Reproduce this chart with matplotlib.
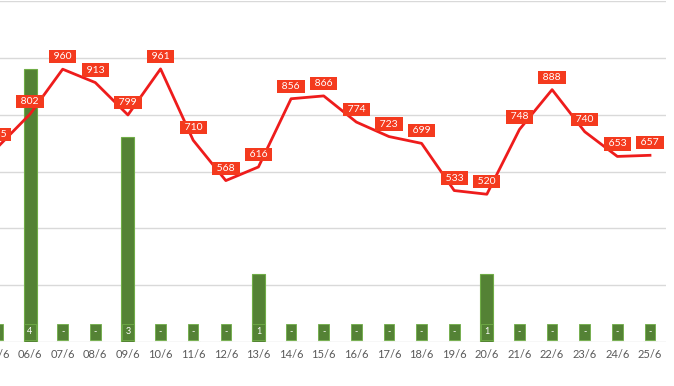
import matplotlib
matplotlib.use('Agg')
import matplotlib.pyplot as plt
import numpy as np

plt.rcParams['font.family'] = ['Lato', 'DejaVu Sans']

# data
days = ['05/6', '06/6', '07/6', '08/6', '09/6', '10/6', '11/6', '12/6', '13/6',
        '14/6', '15/6', '16/6', '17/6', '18/6', '19/6', '20/6', '21/6', '22/6',
        '23/6', '24/6', '25/6']
line_vals = [685, 802, 960, 913, 799, 961, 710, 568, 616, 856, 866, 774, 723,
             699, 533, 520, 748, 888, 740, 653, 657]
bar_vals = [0, 4, 0, 0, 3, 0, 0, 0, 1, 0, 0, 0, 0, 0, 0, 1, 0, 0, 0, 0, 0]

red = '#EE1C1C'
red_box = '#F43A1E'
green = '#548235'
green_edge = '#70AD47'

x = np.arange(len(days))

fig = plt.figure(figsize=(6.74, 3.86), dpi=100)
# the picture is a crop of a wider chart, so the axes spill past the left edge
ax = fig.add_axes([-18.9/674, 44/386, 685.2/674, 341/386])

# grid axis (line scale)
ax.set_ylim(0, 1200)
ax.set_yticks(np.arange(0, 1201, 200))
ax.yaxis.grid(True, color='#D9D9D9', lw=1)
ax.set_axisbelow(True)
ax.tick_params(axis='y', left=False, labelleft=False)
ax.set_xlim(-0.5, len(days) - 0.5)
ax.set_xticks(x)
ax.set_xticklabels(days, fontsize=8, color='#595959')
ax.tick_params(axis='x', length=0, pad=5)
for s in ax.spines.values():
    s.set_visible(False)

# bars on their own scale
axb = ax.twinx()
axb.set_ylim(0, 5)
axb.bar(x, bar_vals, width=0.4, color=green, edgecolor=green_edge, lw=0.8)
for i, v in enumerate(bar_vals):
    axb.annotate(str(v) if v else '-', (i, 0), xytext=(0, 7.2), textcoords='offset points',
                 ha='center', va='center', fontsize=6.5, color='white',
                 bbox=dict(boxstyle='square,pad=0.4', fc=green, ec=green_edge, lw=0.6))
axb.axis('off')

# line on top
axl = ax.twinx()
axl.set_ylim(0, 1200)
axl.plot(x, line_vals, color=red, lw=2, clip_on=False)
for i, v in enumerate(line_vals):
    axl.annotate(' %d ' % v, (i, v), xytext=(0, 9), textcoords='offset points',
                 ha='center', va='center', fontsize=7.5, color='white',
                 bbox=dict(boxstyle='square,pad=0.2', fc=red_box, ec='none'))
axl.axis('off')

fig.savefig('out.png', dpi=100)
